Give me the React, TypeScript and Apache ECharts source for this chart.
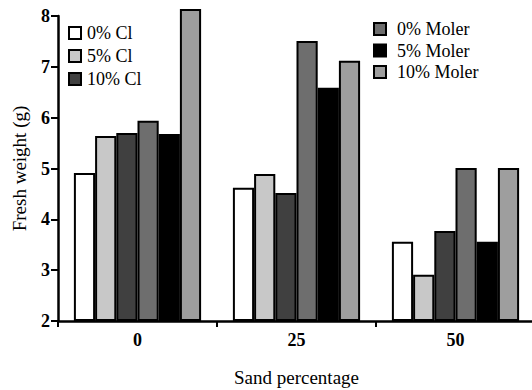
import React, { useEffect, useRef } from "react";
import * as echarts from "echarts";

const categories = ["0", "25", "50"];
const seriesNames = ["0% Cl", "5% Cl", "10% Cl", "0% Moler", "5% Moler", "10% Moler"];
const cl0 = [4.91, 4.62, 3.56];
const cl5 = [5.64, 4.89, 2.91];
const cl10 = [5.7, 4.52, 3.77];
const moler0 = [5.94, 7.51, 5.01];
const moler5 = [5.68, 6.59, 3.56];
const moler10 = [8.14, 7.12, 5.01];
const yTicks = [2, 3, 4, 5, 6, 7, 8];

const colors = ["#ffffff", "#c8c8c8", "#404040", "#6e6e6e", "#000000", "#9e9e9e"];
const values = [cl0, cl5, cl10, moler0, moler5, moler10];

const FONT = "'Times New Roman', Tinos, 'Liberation Serif', 'DejaVu Serif', 'Noto Serif', serif";

export default function App() {
  const ref = useRef<HTMLDivElement>(null);
  useEffect(() => {
    const chart = echarts.init(ref.current!, null, { renderer: "svg" });
    const legendText = { fontFamily: FONT, fontSize: 18, color: "#000" };
    chart.setOption({
      animation: false,
      backgroundColor: "#ffffff",
      textStyle: { fontFamily: FONT },
      grid: { left: 58, width: 477, top: 16, bottom: 69, outerBoundsMode: "none", containLabel: false },
      legend: [
        {
          data: seriesNames.slice(0, 3),
          orient: "vertical",
          left: 68,
          top: 24,
          padding: 0,
          itemWidth: 12,
          itemHeight: 12,
          itemGap: 5,
          icon: "rect",
          textStyle: { ...legendText, padding: [0, 0, 0, 1] },
        },
        {
          data: seriesNames.slice(3),
          orient: "vertical",
          left: 373,
          top: 20,
          padding: 0,
          itemWidth: 12,
          itemHeight: 12,
          itemGap: 3.5,
          icon: "rect",
          textStyle: { ...legendText, padding: [0, 0, 0, 6] },
        },
      ],
      xAxis: {
        type: "category",
        data: categories,
        name: "Sand percentage",
        nameLocation: "middle",
        nameGap: 47,
        nameTextStyle: { fontFamily: FONT, fontSize: 19, color: "#000" },
        axisLine: { lineStyle: { color: "#000", width: 2.5 } },
        axisTick: { show: true, length: 6, lineStyle: { color: "#000", width: 2 }, alignWithLabel: false },
        axisLabel: { fontFamily: FONT, fontSize: 18, fontWeight: "bold", color: "#000", margin: 10 },
      },
      yAxis: {
        type: "value",
        min: yTicks[0],
        max: yTicks[yTicks.length - 1],
        startValue: yTicks[0],
        interval: 1,
        name: "Fresh weight (g)",
        nameLocation: "middle",
        nameGap: 29,
        nameTextStyle: { fontFamily: FONT, fontSize: 19, color: "#000" },
        axisLine: { show: true, lineStyle: { color: "#000", width: 2.5 } },
        axisTick: { show: true, length: 7, lineStyle: { color: "#000", width: 2 } },
        axisLabel: { fontFamily: FONT, fontSize: 18, fontWeight: "bold", color: "#000", margin: 8 },
        splitLine: { show: false },
      },
      series: seriesNames.map((name, i) => ({
        name,
        type: "bar",
        data: values[i],
        clip: false,
        barGap: "0%",
        barCategoryGap: "20%",
        itemStyle: { color: colors[i], borderColor: "#000", borderWidth: 2 },
      })),
    });
    return () => chart.dispose();
  }, []);
  return (
    <div
      ref={ref}
      style={{ position: "fixed", left: 0, top: 0, width: 532, height: 390 }}
    />
  );
}
